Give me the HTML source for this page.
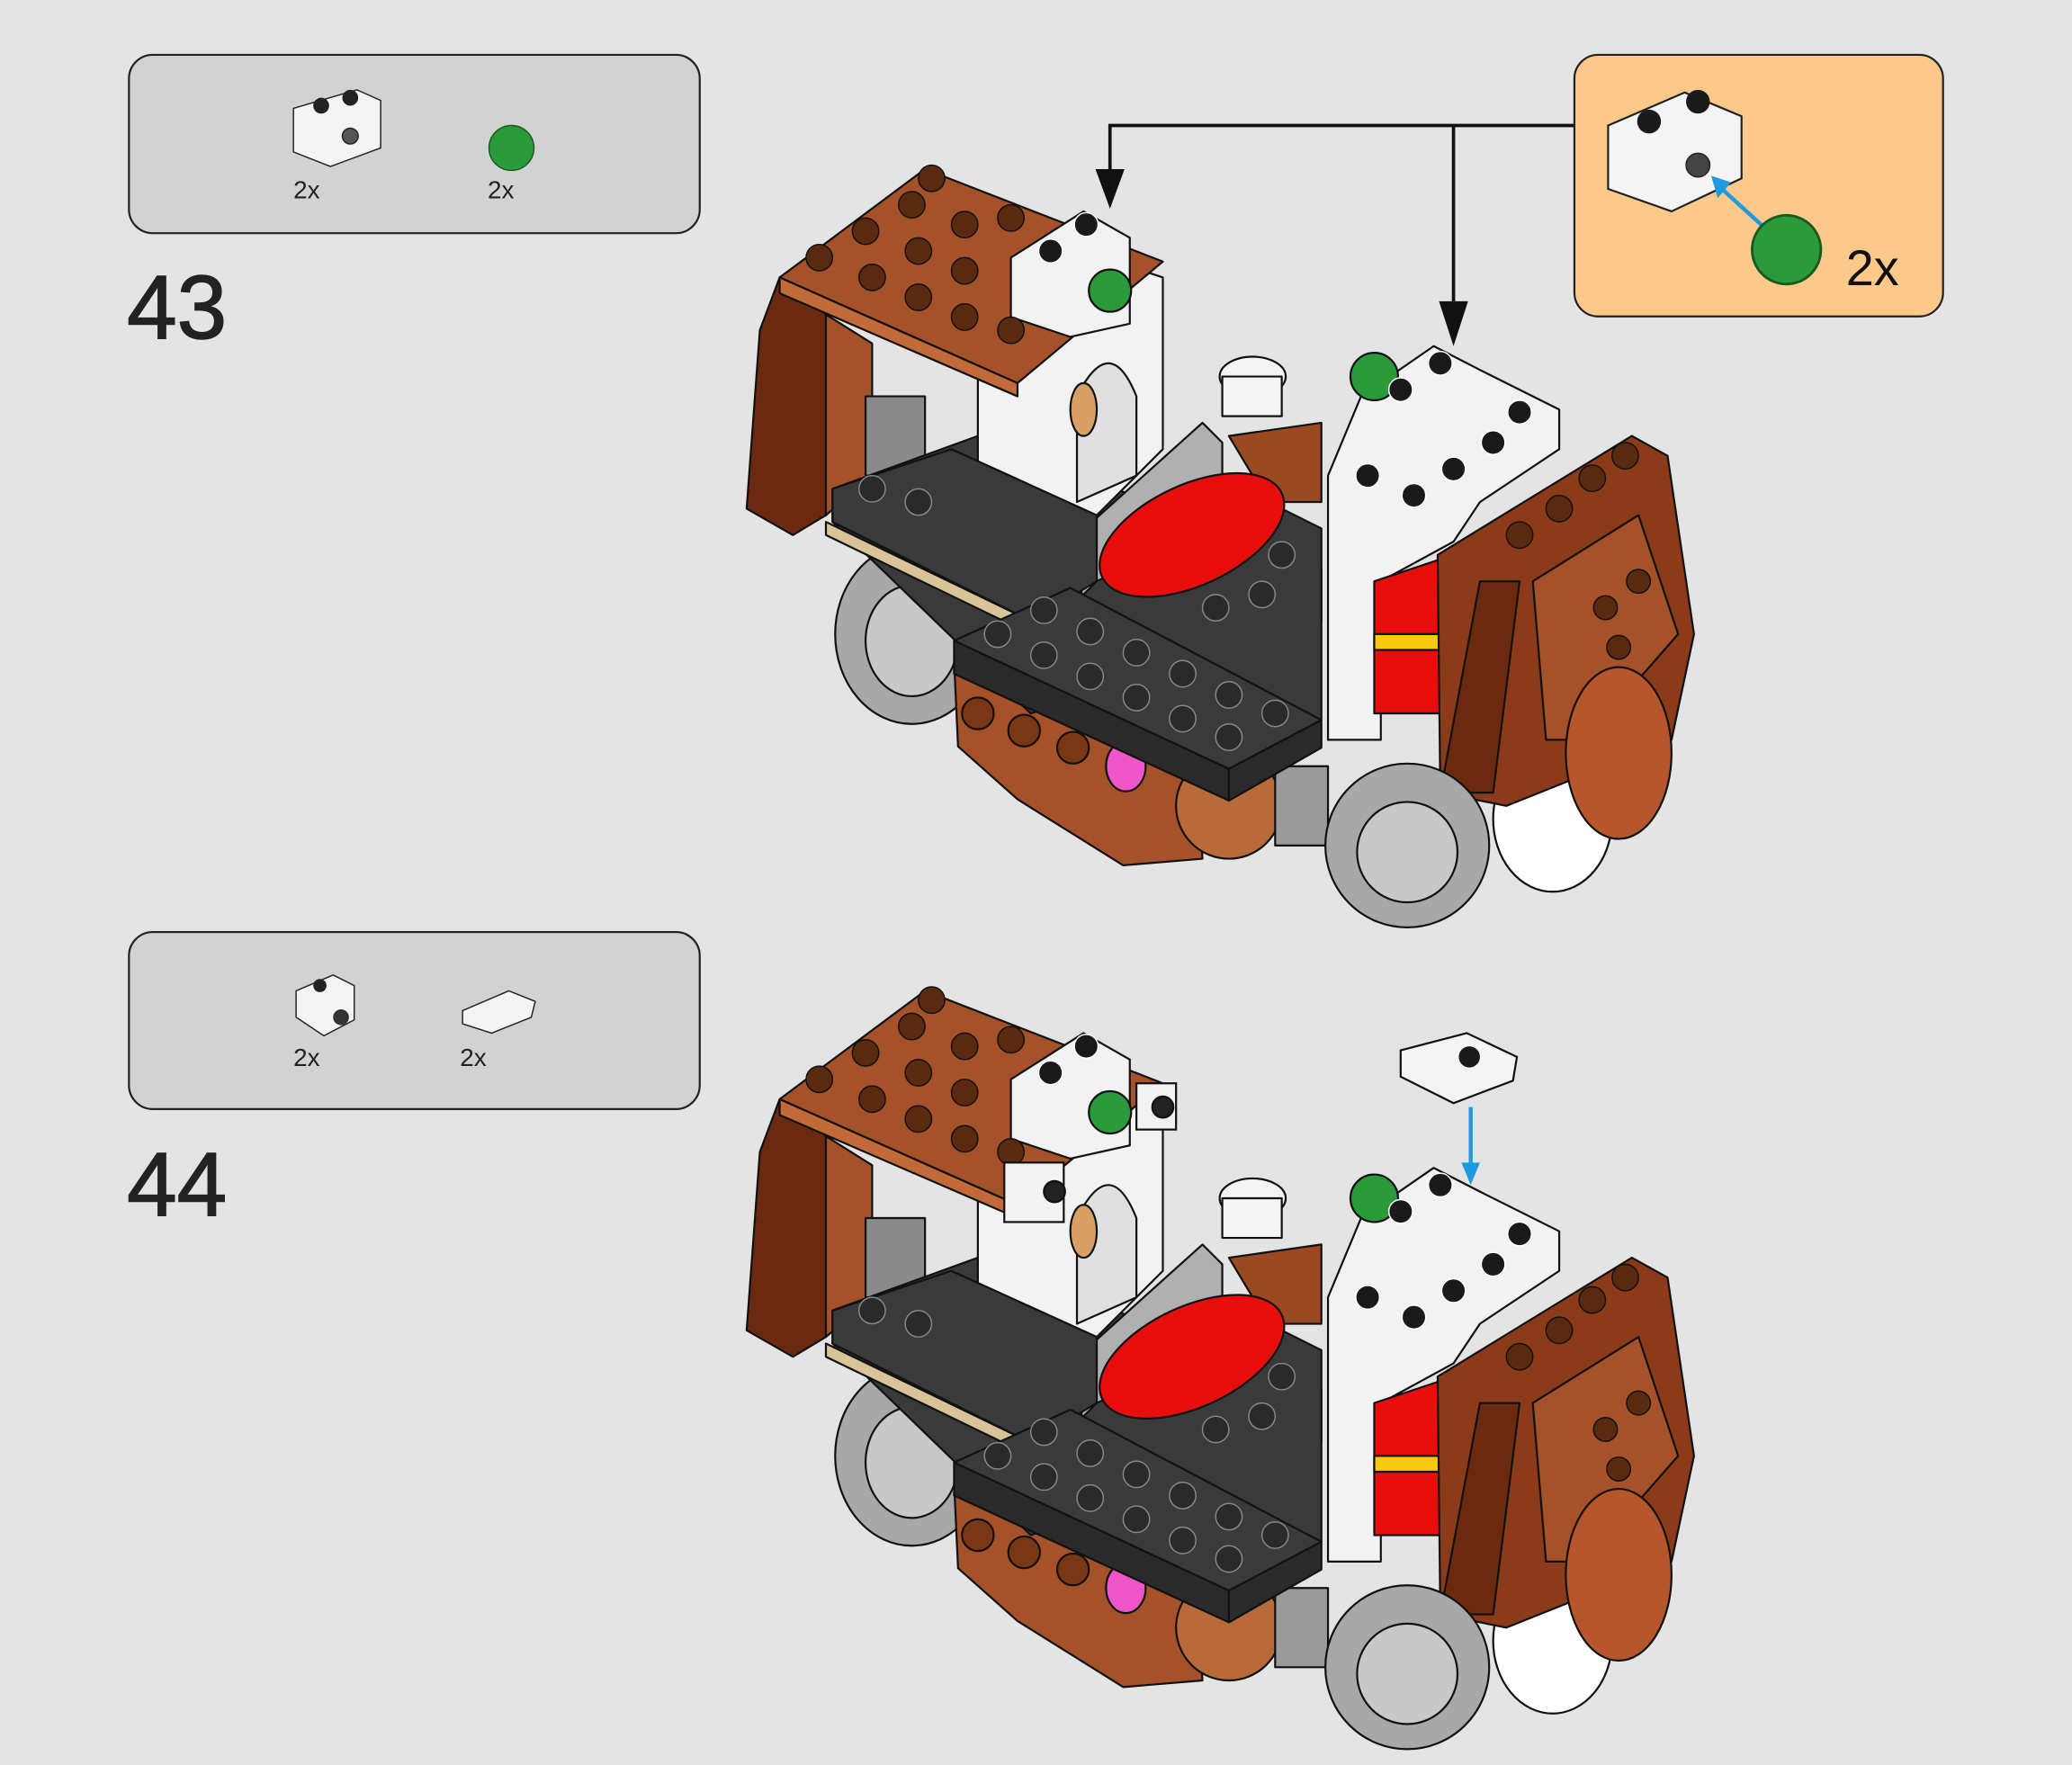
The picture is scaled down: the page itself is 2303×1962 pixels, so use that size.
<!DOCTYPE html>
<html><head><style>html,body{margin:0;padding:0;background:#e4e4e4}svg{display:block}</style></head>
<body>
<svg width="2303" height="1962" viewBox="0 0 1568 1336" xmlns="http://www.w3.org/2000/svg" font-family="Liberation Sans, sans-serif">
<rect width="1568" height="1336" fill="#e4e4e4"/>
<defs>
<g id="model" stroke="#111" stroke-width="1.5" stroke-linejoin="round">
  <ellipse cx="690" cy="480" rx="58" ry="68" fill="#a8a8a8"/>
  <ellipse cx="690" cy="485" rx="35" ry="42" fill="#c8c8c8"/>
  <ellipse cx="1175" cy="620" rx="45" ry="55" fill="#fff"/>
  <!-- lower brown body -->
  <polygon points="722,500 905,570 910,650 850,655 770,605 725,565" fill="#a5512a"/>
  <ellipse cx="930" cy="610" rx="40" ry="40" fill="#b96a3a"/>
  <circle cx="740" cy="540" r="12" fill="#7a3716"/>
  <circle cx="775" cy="553" r="12" fill="#7a3716"/>
  <circle cx="812" cy="566" r="12" fill="#7a3716"/>
  <ellipse cx="852" cy="580" rx="15" ry="19" fill="#ef55c8"/>
  <rect x="965" y="580" width="40" height="60" fill="#9a9a9a"/>
  <polygon points="590,210 625,238 625,390 600,405 565,385 575,250" fill="#6b2a10"/>
  <polygon points="625,238 660,260 660,360 625,390" fill="#a5512a"/>
  <rect x="655" y="300" width="45" height="60" fill="#8a8a8a"/>
  <polygon points="630,370 740,330 1000,430 1000,470 780,540 630,395" fill="#3a3a3a"/>
  <polygon points="625,395 780,470 780,480 625,405" fill="#d8c498"/>
  <polygon points="740,240 790,245 850,200 880,210 880,340 820,400 780,420 740,410" fill="#f2f2f2"/>
  <path d="M815,300 Q840,250 860,300 L860,360 L815,380 Z" fill="#e0e0e0"/>
  <ellipse cx="820" cy="310" rx="10" ry="20" fill="#d9a066"/>
  <polygon points="810,410 910,320 925,335 925,395 820,455" fill="#b0b0b0"/>
  <polygon points="590,210 700,128 880,198 770,290" fill="#a5512a"/>
  <polygon points="590,210 770,290 770,300 590,222" fill="#c36a3a"/>
  <polygon points="765,195 820,160 855,180 855,245 810,255 765,240" fill="#f2f2f2"/>
  <circle cx="840" cy="220" r="16" fill="#2a9a3a"/>
  <ellipse cx="948" cy="285" rx="25" ry="15" fill="#f4f4f4"/>
  <rect x="925" y="285" width="45" height="30" fill="#f4f4f4"/>
  <polygon points="930,330 1000,320 1000,380 960,380" fill="#9a4a22"/>
  <polygon points="630,370 720,340 830,390 830,440 780,470 630,395" fill="#3a3a3a"/>
  <polygon points="830,440 960,380 1000,400 1000,545 920,560 800,470" fill="#3a3a3a"/>
  <!-- front slab -->
  <polygon points="722,485 810,445 1000,545 930,582" fill="#3a3a3a"/>
  <polygon points="722,485 930,582 930,606 722,510" fill="#2a2a2a"/>
  <polygon points="930,582 1000,545 1000,566 930,606" fill="#2a2a2a"/>
  <ellipse cx="902" cy="405" rx="75" ry="38" transform="rotate(-25 902 405)" fill="#e80e0e"/>
  <polygon points="1005,360 1030,300 1085,262 1120,280 1180,310 1180,340 1120,380 1100,410 1045,440 1045,560 1005,560" fill="#f2f2f2"/>
  <circle cx="1040" cy="285" r="18" fill="#2a9a3a"/>
  <polygon points="1040,440 1100,420 1110,440 1110,540 1040,540" fill="#e80e0e"/>
  <rect x="1040" y="480" width="70" height="12" fill="#f7c912"/>
  <circle cx="1100" cy="435" r="9" fill="#f7c912"/>
  <polygon points="1088,420 1235,330 1262,345 1282,480 1265,560 1140,610 1090,600" fill="#8b3a1a"/>
  <polygon points="1120,440 1150,440 1130,600 1090,600" fill="#6b2a10"/>
  <polygon points="1160,440 1240,390 1270,480 1200,560 1170,560" fill="#a5512a"/>
  <ellipse cx="1225" cy="570" rx="40" ry="65" fill="#b5562c"/>
  <ellipse cx="1065" cy="640" rx="62" ry="62" fill="#a8a8a8"/>
  <ellipse cx="1065" cy="645" rx="38" ry="38" fill="#c8c8c8"/>
  <g fill="#2a2a2a" stroke="#888" stroke-width="1">
    <circle cx="755" cy="480" r="10"/><circle cx="790" cy="496" r="10"/><circle cx="825" cy="512" r="10"/><circle cx="860" cy="528" r="10"/><circle cx="895" cy="544" r="10"/><circle cx="930" cy="558" r="10"/>
    <circle cx="790" cy="462" r="10"/><circle cx="825" cy="478" r="10"/><circle cx="860" cy="494" r="10"/><circle cx="895" cy="510" r="10"/><circle cx="930" cy="526" r="10"/><circle cx="965" cy="540" r="10"/>
    <circle cx="920" cy="460" r="10"/><circle cx="955" cy="450" r="10"/><circle cx="970" cy="420" r="10"/>
    <circle cx="660" cy="370" r="10"/><circle cx="695" cy="380" r="10"/>
  </g>
  <g fill="#5a2a10" stroke="#111" stroke-width="1">
    <circle cx="620" cy="195" r="10"/><circle cx="655" cy="175" r="10"/><circle cx="690" cy="155" r="10"/><circle cx="705" cy="135" r="10"/>
    <circle cx="660" cy="210" r="10"/><circle cx="695" cy="190" r="10"/><circle cx="730" cy="170" r="10"/><circle cx="765" cy="165" r="10"/>
    <circle cx="695" cy="225" r="10"/><circle cx="730" cy="205" r="10"/><circle cx="765" cy="250" r="10"/><circle cx="730" cy="240" r="10"/>
    <circle cx="1150" cy="405" r="10"/><circle cx="1180" cy="385" r="10"/><circle cx="1205" cy="362" r="10"/><circle cx="1230" cy="345" r="10"/>
    <circle cx="1215" cy="460" r="9"/><circle cx="1240" cy="440" r="9"/><circle cx="1225" cy="490" r="9"/>
  </g>
  <g fill="#1a1a1a" stroke="#fff" stroke-width="1">
    <circle cx="795" cy="190" r="9"/><circle cx="822" cy="170" r="9"/>
    <circle cx="1060" cy="295" r="9"/><circle cx="1090" cy="275" r="9"/><circle cx="1035" cy="360" r="9"/><circle cx="1070" cy="375" r="9"/><circle cx="1100" cy="355" r="9"/><circle cx="1130" cy="335" r="9"/><circle cx="1150" cy="312" r="9"/>
  </g>
</g>
</defs>

<rect x="97.5" y="41.5" width="432" height="135" rx="18" fill="#d2d2d2" stroke="#222" stroke-width="1.5"/>
<polygon points="222,82 270,68 288,76 288,112 250,126 222,115" fill="#f4f4f4" stroke="#222"/>
<circle cx="243" cy="80" r="6" fill="#222"/><circle cx="265" cy="74" r="6" fill="#222"/><circle cx="265" cy="103" r="6" fill="#555" stroke="#222"/>
<circle cx="387" cy="112" r="17" fill="#2a9a3a" stroke="#1a5a20"/>
<text x="222" y="150" font-size="19" fill="#222">2x</text>
<text x="369" y="150" font-size="19" fill="#222">2x</text>
<text x="96" y="256" font-size="68" fill="#222" stroke="#222" stroke-width="1">43</text>

<use href="#model"/>

<path d="M1191,95 H840 V150 M1100,95 V255" fill="none" stroke="#111" stroke-width="2.5"/>
<polygon points="829,128 851,128 840,158" fill="#111"/>
<polygon points="1089,228 1111,228 1100,262" fill="#111"/>

<rect x="1191.5" y="41.5" width="279" height="198" rx="18" fill="#fdc98a" stroke="#222" stroke-width="1.5"/>
<polygon points="1217,95 1275,70 1318,88 1318,135 1265,160 1217,143" fill="#f4f4f4" stroke="#222" stroke-width="1.5"/>
<circle cx="1248" cy="92" r="9" fill="#1a1a1a"/><circle cx="1285" cy="77" r="9" fill="#1a1a1a"/>
<circle cx="1285" cy="125" r="9" fill="#444" stroke="#222"/>
<line x1="1335" y1="172" x2="1302" y2="142" stroke="#1e9ae0" stroke-width="3"/>
<polygon points="1295,133 1310,138 1300,150" fill="#1e9ae0"/>
<circle cx="1352" cy="189" r="26" fill="#2a9a3a" stroke="#1a5a20" stroke-width="2"/>
<text x="1397" y="216" font-size="38" fill="#111">2x</text>

<rect x="97.5" y="705.5" width="432" height="134" rx="18" fill="#d2d2d2" stroke="#222" stroke-width="1.5"/>
<polygon points="224,750 252,738 268,746 268,772 245,784 224,770" fill="#f4f4f4" stroke="#222"/>
<circle cx="242" cy="746" r="5" fill="#222"/><circle cx="258" cy="770" r="6" fill="#333"/>
<polygon points="350,765 385,750 405,758 402,770 372,782 350,775" fill="#f4f4f4" stroke="#222"/>
<text x="222" y="807" font-size="19" fill="#222">2x</text>
<text x="348" y="807" font-size="19" fill="#222">2x</text>
<text x="96" y="920" font-size="68" fill="#222" stroke="#222" stroke-width="1">44</text>

<use href="#model" transform="translate(0,622)"/>
<g stroke="#111" stroke-width="1.5">
<rect x="860" y="820" width="30" height="35" fill="#f2f2f2"/>
<rect x="760" y="880" width="45" height="45" fill="#f2f2f2"/>
<circle cx="880" cy="838" r="8" fill="#222"/><circle cx="798" cy="902" r="8" fill="#222"/>
<polygon points="1060,795 1110,782 1148,800 1145,818 1100,835 1060,815" fill="#f4f4f4"/>
</g>
<circle cx="1112" cy="800" r="8" fill="#1a1a1a"/>
<line x1="1113" y1="838" x2="1113" y2="885" stroke="#1e9ae0" stroke-width="3"/>
<polygon points="1106,880 1120,880 1113,897" fill="#1e9ae0"/>
</svg>
</body></html>
